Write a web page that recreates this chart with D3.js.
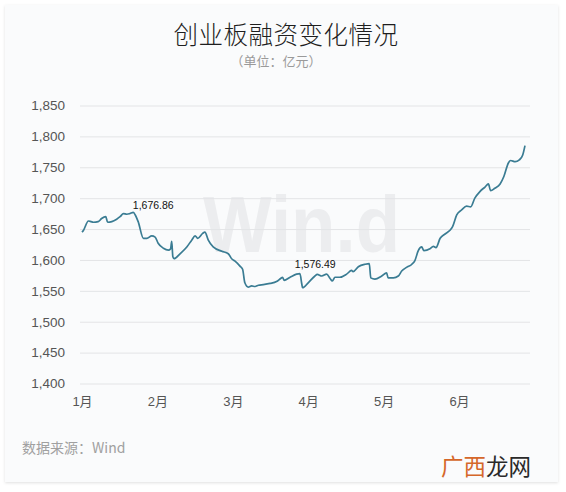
<!DOCTYPE html>
<html>
<head>
<meta charset="utf-8">
<script src="https://cdn.jsdelivr.net/npm/d3@7"></script>
<style>
  html, body { margin: 0; padding: 0; background: #ffffff; }
  svg { display: block; }
  text { font-family: "Liberation Sans", Arial, "Noto Sans CJK SC", sans-serif; }
  .cjk { font-family: "Noto Sans CJK SC", "Liberation Sans", sans-serif; }
</style>
</head>
<body>
<svg id="chart" width="566" height="492"></svg>
<script>
// ---- data ----
const title = "创业板融资变化情况";
const subtitle = "（单位：亿元）";
const source = "数据来源：Wind";
const monthLabels = ["1月", "2月", "3月", "4月", "5月", "6月"];
const monthStartDay = [0, 20, 40, 60, 80, 100];   // trading-day position of each month label
const yTicks = [1400, 1450, 1500, 1550, 1600, 1650, 1700, 1750, 1800, 1850];
const days = [0, 0.3, 1.7, 2.4, 3, 4.3, 5.2, 6.3, 6.8, 7.9, 9.2, 10.1, 11, 11.9, 12.7, 13.6, 14.2, 14.9,
  16.3, 17.2, 18.5, 19.4, 20.2, 21.6, 22.9, 23.5, 23.8, 24.1, 24.4, 26, 27.8, 29.1, 30, 30.7, 32, 32.6,
  33.5, 34.8, 37.1, 38.8, 39.7, 40.6, 41.9, 42.6, 43.2, 44.1, 45, 45.9, 46.8, 48.1, 49.9, 51.6, 52.7,
  53.2, 53.6, 55.2, 56.9, 57.8, 58.3, 58.5, 60, 61.8, 62.4, 63.6, 64.9, 65.8, 66.4, 67.1, 68.4, 70.2,
  71.5, 71.9, 73.3, 75.1, 76.2, 76.6, 77.7, 79.5, 80.8, 81.2, 82.6, 83.9, 84.8, 86.1, 87.5, 88.3, 89.2,
  90.1, 90.7, 92.3, 93.2, 93.9, 95, 96.3, 97.6, 98.3, 99.4, 100.7, 102, 103.1, 104.2, 105.6, 106.9,
  107.8, 108.4, 109.5, 110.9, 111.9, 113.1, 113.7, 114.9, 116, 116.9, 117.5];
const values = [1645, 1647, 1663, 1662, 1661, 1662, 1667, 1670, 1661, 1662, 1666, 1670, 1675, 1674, 1675, 1676.86, 1672, 1662,
  1635, 1635, 1639, 1637, 1627, 1619, 1616, 1618, 1630, 1605, 1602, 1610, 1621, 1632, 1639, 1635, 1643, 1645,
  1632, 1621, 1614, 1610, 1602, 1598, 1590, 1585, 1563, 1556, 1558, 1557, 1559, 1560, 1562, 1565, 1570,
  1572, 1567, 1572, 1577, 1578, 1561, 1555, 1563, 1574, 1576.49, 1574, 1577, 1570, 1566, 1572, 1572, 1577,
  1583, 1581, 1589, 1593, 1594, 1571, 1569, 1574, 1579, 1571, 1571, 1574, 1582, 1588, 1593, 1599, 1615,
  1621, 1615, 1618, 1622, 1620, 1635, 1642, 1648, 1654, 1673, 1681, 1687, 1686, 1700, 1711, 1718,
  1723, 1712, 1716, 1723, 1735, 1757, 1761, 1759, 1762, 1770, 1785.16];
const annotationIdx = [15, 62, 117];   // indices of labelled points

// ---- drawing ----
const svg = d3.select("#chart");

// card
const defs = svg.append("defs");
const f = defs.append("filter").attr("id", "shadow").attr("x", "-5%").attr("y", "-5%").attr("width", "110%").attr("height", "110%");
f.append("feDropShadow").attr("dx", 0).attr("dy", 1).attr("stdDeviation", 1.5).attr("flood-color", "#000").attr("flood-opacity", 0.12);
svg.append("rect").attr("x", 5).attr("y", 5).attr("width", 553).attr("height", 477)
  .attr("fill", "#fafbfc").attr("filter", "url(#shadow)");

const x = d3.scaleLinear().domain([0, 120]).range([82, 534.4]);
const y = d3.scaleLinear().domain([1400, 1850]).range([383.5, 105.5]);

// watermark
svg.append("text").attr("x", 203).attr("y", 252)
  .attr("font-size", 80).attr("font-weight", "bold")
  .attr("textLength", 197).attr("lengthAdjust", "spacingAndGlyphs")
  .attr("fill", "#ecedef").text("Win.d");

// title
svg.append("text").attr("class", "cjk").attr("x", 286).attr("y", 44)
  .attr("text-anchor", "middle").attr("font-size", 24.5).attr("font-weight", 300)
  .attr("letter-spacing", 0.5).attr("fill", "#1e1e1e")
  .text(title);
svg.append("text").attr("class", "cjk").attr("x", 276).attr("y", 66)
  .attr("text-anchor", "middle").attr("font-size", 13).attr("fill", "#9a9a9a")
  .text(subtitle);

// y grid + labels
const yAxis = d3.axisLeft(y).tickValues(yTicks).tickFormat(d3.format(",")).tickSize(-450).tickPadding(15);
const gy = svg.append("g").attr("transform", "translate(80,0)").call(yAxis);
gy.select(".domain").remove();
gy.selectAll(".tick line").attr("stroke", "#e3e4e6").attr("stroke-width", 1);
gy.selectAll(".tick text").attr("font-size", 13.5).attr("fill", "#555")
  .attr("font-family", "'Liberation Sans', Arial, sans-serif");

// x labels
const xAxis = d3.axisBottom(x).tickValues(monthStartDay)
  .tickFormat((d, i) => monthLabels[i]).tickSize(0).tickPadding(13);
const gx = svg.append("g").attr("transform", "translate(0,384)").call(xAxis);
gx.select(".domain").remove();
gx.selectAll(".tick text").attr("font-size", 13).attr("fill", "#555")
  .attr("font-family", "'Liberation Sans', 'Noto Sans CJK SC', sans-serif");

// line
const pts = days.map((d, i) => ({ d, v: values[i] }));
const line = d3.line().x(p => x(p.d)).y(p => y(p.v)).curve(d3.curveMonotoneX);
svg.append("path").datum(pts).attr("d", line)
  .attr("fill", "none").attr("stroke", "#3a7c93").attr("stroke-width", 1.7)
  .attr("stroke-linejoin", "round");

// annotations
const annDx = [20, -2, -12];
const annDy = [-3, -6, -4];
annotationIdx.forEach((k, j) => {
  svg.append("text").attr("x", x(days[k]) + annDx[j]).attr("y", y(values[k]) + annDy[j])
    .attr("text-anchor", "middle").attr("font-size", 10.5).attr("fill", "#111")
    .text(d3.format(",.2f")(values[k]));
});

// footer
svg.append("text").attr("class", "cjk").attr("x", 22).attr("y", 453)
  .attr("font-size", 14).attr("fill", "#a0a0a0").text(source);

const brand = svg.append("text").attr("class", "cjk").attr("x", 441).attr("y", 475)
  .attr("font-size", 22.5);
brand.append("tspan").attr("fill", "#d5672a").text("广西");
brand.append("tspan").attr("fill", "#2a2a2a").text("龙网");
</script>
</body>
</html>
